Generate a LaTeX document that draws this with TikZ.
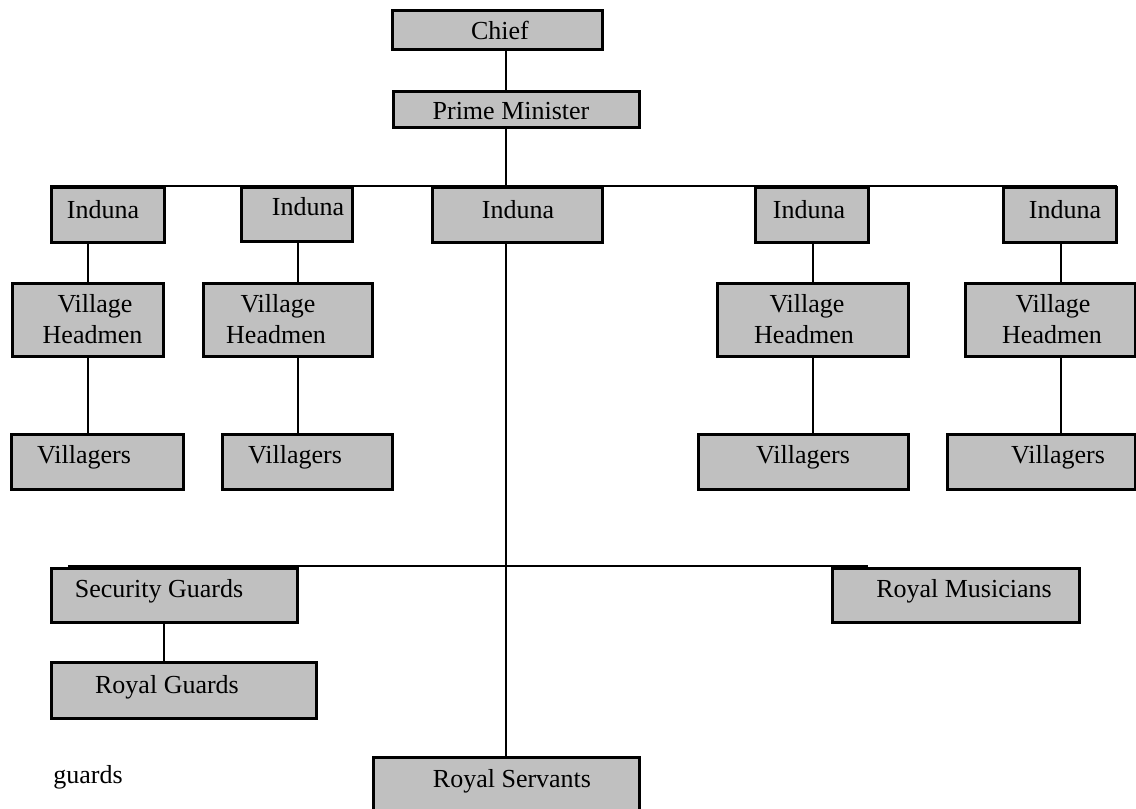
\documentclass[tikz,border=0pt]{standalone}
\usepackage{fontspec}
\setmainfont{Liberation Serif}
\usetikzlibrary{fit}
\definecolor{boxgray}{RGB}{192,192,192}
\newcommand{\orgbox}[5]{%
  \coordinate (#1-a) at (#2,#3);
  \coordinate (#1-b) at (#4,#5);
  \node[box, fit=(#1-a)(#1-b)] (#1) {};}
\begin{document}
\begin{tikzpicture}[x=1pt,y=-1pt,
  box/.style={draw=black, line width=3pt, fill=boxgray, inner sep=0pt},
  conn/.style={line width=2.6pt, draw=black},
  lbl/.style={anchor=base, inner sep=0pt, font=\fontsize{26}{32}\selectfont}]
\useasboundingbox (0,0) rectangle (1136,809);
\clip (0,0) rectangle (1136,809);

% x positions of connectors
\coordinate (spine) at (506,0);
\coordinate (c1) at (88,0);
\coordinate (c2) at (298,0);
\coordinate (c4) at (813,0);
\coordinate (c5) at (1061,0);
\coordinate (sgx) at (164,0);
% bars
\coordinate (topL) at (50,186);
\coordinate (topR) at (1117,186);
\coordinate (lowL) at (68,566);
\coordinate (lowR) at (868,566);

% boxes
\orgbox{chief}{392}{10}{602}{49}
\orgbox{pm}{393}{91}{639}{127}
\orgbox{ind1}{51}{187}{164}{242}
\orgbox{ind2}{241}{187}{352}{241}
\orgbox{ind3}{432}{187}{602}{242}
\orgbox{ind4}{755}{187}{868}{242}
\orgbox{ind5}{1003}{187}{1116}{242}
\orgbox{vh1}{12}{283}{163}{356}
\orgbox{vh2}{203}{283}{372}{356}
\orgbox{vh4}{717}{283}{908}{356}
\orgbox{vh5}{965}{283}{1135}{356}
\orgbox{vil1}{11}{434}{183}{489}
\orgbox{vil2}{222}{434}{392}{489}
\orgbox{vil4}{698}{434}{908}{489}
\orgbox{vil5}{947}{434}{1135}{489}
\orgbox{sg}{51}{568}{297}{622}
\orgbox{rg}{51}{662}{316}{718}
\orgbox{rm}{832}{568}{1079}{622}
\orgbox{rs}{373}{757}{639}{820}

% connectors
\draw[conn] (chief.south -| spine) -- (pm.north -| spine);
\draw[conn] (pm.south -| spine) -- (topL -| spine);
\draw[conn] (topL) -- (topR);
\draw[conn] (ind1.south -| c1) -- (vh1.north -| c1);
\draw[conn] (vh1.south -| c1) -- (vil1.north -| c1);
\draw[conn] (ind2.south -| c2) -- (vh2.north -| c2);
\draw[conn] (vh2.south -| c2) -- (vil2.north -| c2);
\draw[conn] (ind4.south -| c4) -- (vh4.north -| c4);
\draw[conn] (vh4.south -| c4) -- (vil4.north -| c4);
\draw[conn] (ind5.south -| c5) -- (vh5.north -| c5);
\draw[conn] (vh5.south -| c5) -- (vil5.north -| c5);
\draw[conn] (ind3.south -| spine) -- (rs.north -| spine);
\draw[conn] (lowL) -- (lowR);
\draw[conn] (sg.south -| sgx) -- (rg.north -| sgx);

% labels
\node[lbl] (t-chief) at (500,39) {Chief};
\node[lbl] (t-pm) at (511,119) {Prime Minister};
\node[lbl] (t-ind1) at (103,218) {Induna};
\node[lbl] (t-ind2) at (308,215) {Induna};
\node[lbl] (t-ind3) at (518,218) {Induna};
\node[lbl] (t-ind4) at (809,218) {Induna};
\node[lbl] (t-ind5) at (1065,218) {Induna};
\node[lbl] (t-vh1a) at (95,312) {Village};
\node[lbl] (t-vh1b) at (92.5,343) {Headmen};
\node[lbl] (t-vh2a) at (278,312) {Village};
\node[lbl] (t-vh2b) at (276,343) {Headmen};
\node[lbl] (t-vh4a) at (807,312) {Village};
\node[lbl] (t-vh4b) at (804,343) {Headmen};
\node[lbl] (t-vh5a) at (1053,312) {Village};
\node[lbl] (t-vh5b) at (1052,343) {Headmen};
\node[lbl] (t-vil1) at (84,463) {Villagers};
\node[lbl] (t-vil2) at (295,463) {Villagers};
\node[lbl] (t-vil4) at (803,463) {Villagers};
\node[lbl] (t-vil5) at (1058,463) {Villagers};
\node[lbl] (t-sg) at (159,597) {Security Guards};
\node[lbl] (t-rg) at (167,693) {Royal Guards};
\node[lbl] (t-rm) at (964,597) {Royal Musicians};
\node[lbl] (t-rs) at (512,787) {Royal Servants};
\node[lbl] (t-guards) at (88,783) {guards};
\end{tikzpicture}
\end{document}
